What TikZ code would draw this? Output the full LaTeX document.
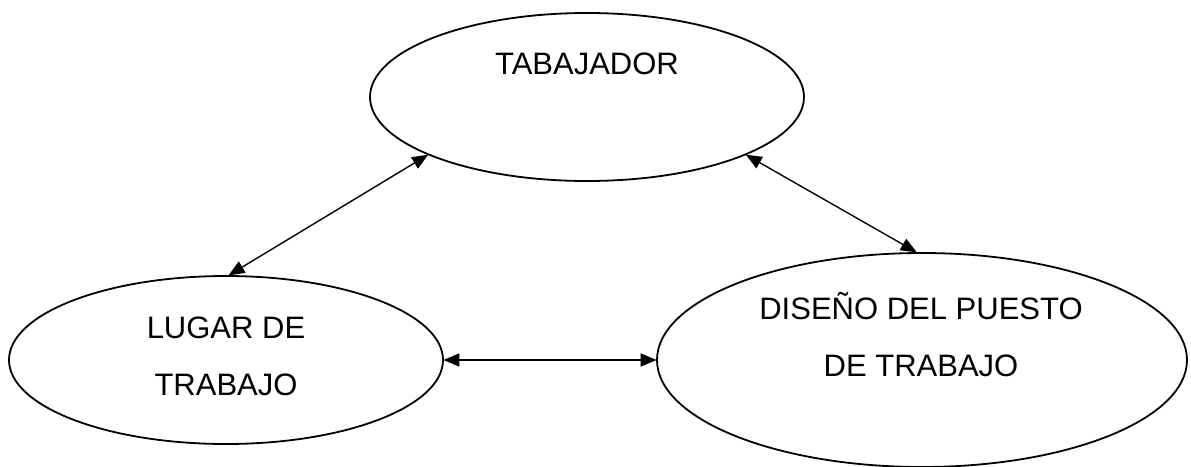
\documentclass[tikz,border=0pt]{standalone}
\usepackage{fontspec}
\setmainfont{Liberation Sans}
\usetikzlibrary{shapes.geometric,arrows.meta}
\begin{document}
\begin{tikzpicture}[x=1pt,y=-1pt,
  oval/.style={draw=black,line width=1.8pt,ellipse,inner sep=0pt},
  lbl/.style={inner sep=0pt,anchor=base,align=center,font=\fontsize{31}{57}\selectfont},
  link/.style={line width=1.4pt,{Triangle[length=16pt,width=13pt]}-{Triangle[length=16pt,width=13pt]},shorten <=-0.5pt,shorten >=-0.5pt}]
\useasboundingbox (0,0) rectangle (1191,466);
\node[oval,minimum width=434pt,minimum height=168pt] (trab) at (587,97) {};
\node[oval,minimum width=434pt,minimum height=168pt] (lugar) at (226,360) {};
\node[oval,minimum width=530pt,minimum height=214pt] (dis) at (922,360) {};
\node[lbl] (ttrab) at (587,74) {TABAJADOR};
\node[lbl] (tlugar) at (226,395) {LUGAR DE\\TRABAJO};
\node[lbl] (tdis) at (921,376) {DISEÑO DEL PUESTO\\DE TRABAJO};
\draw[link] (lugar.88.6) -- (trab.200.5);
\draw[link] (trab.-20.4) -- (dis.93);
\draw[link] (lugar.east) -- (dis.west);
\end{tikzpicture}
\end{document}
